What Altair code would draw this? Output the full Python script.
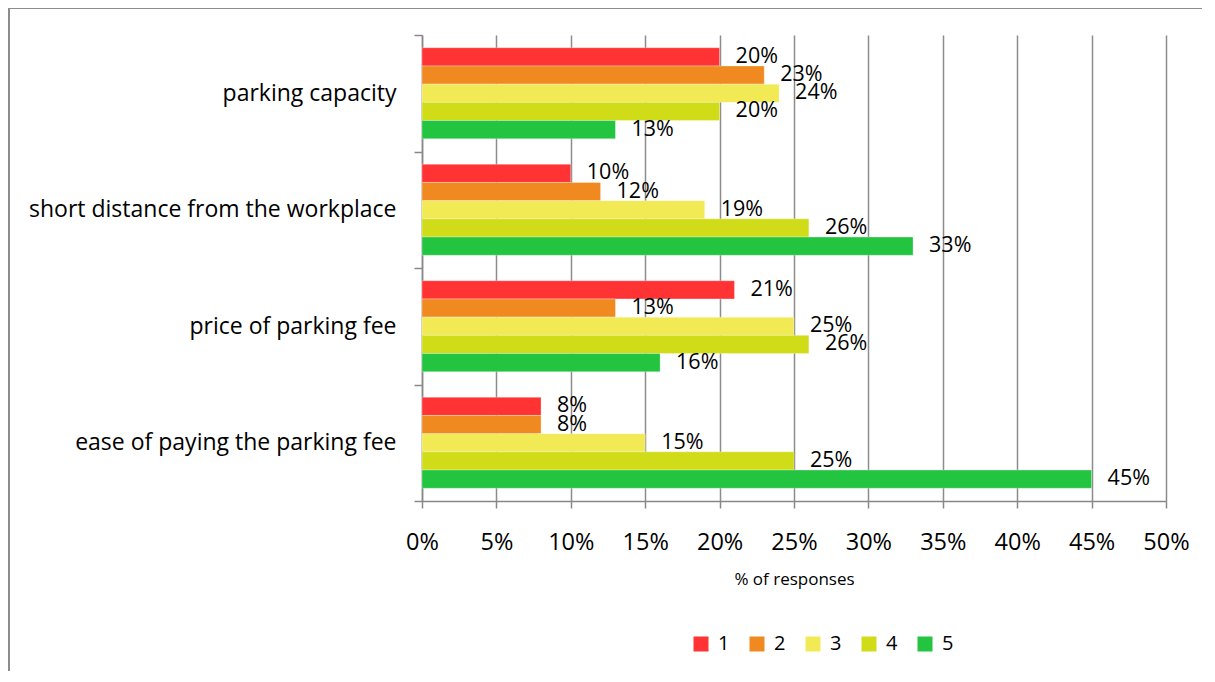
import altair as alt
import pandas as pd

categories = ["parking capacity", "short distance from the workplace",
              "price of parking fee", "ease of paying the parking fee"]
ratings = ["1", "2", "3", "4", "5"]
v_capacity = [20, 23, 24, 20, 13]
v_distance = [10, 12, 19, 26, 33]
v_price = [21, 13, 25, 26, 16]
v_ease = [8, 8, 15, 25, 45]
colors = ["#FF3333", "#F08A20", "#F2EA55", "#D0DC18", "#22C440"]

series = [v_capacity, v_distance, v_price, v_ease]
rows = []
for cat, vals in zip(categories, series):
    for r, v in zip(ratings, vals):
        rows.append({"category": cat, "rating": r, "value": v / 100.0,
                     "label": f"{v}%"})
df = pd.DataFrame(rows)

FONT = "Open Sans"

y_enc = alt.Y("category:N", sort=categories,
              scale=alt.Scale(paddingInner=0, paddingOuter=0),
              axis=alt.Axis(title=None, tickBand="extent", labelFontSize=23,
                            labelColor="#000000", labelFont=FONT, labelPadding=18,
                            tickSize=8, tickColor="#888888", domainColor="#888888",
                            tickWidth=1.5, domainWidth=1.5, grid=False, labelLimit=500))
yoff = alt.YOffset("rating:N", sort=ratings,
                   scale=alt.Scale(paddingInner=0, paddingOuter=0.7))

bars = alt.Chart(df).mark_bar(stroke="#ffffff", strokeWidth=0.6, strokeOpacity=0.5).encode(
    x=alt.X("value:Q", scale=alt.Scale(domain=[0, 0.5], nice=False),
            axis=alt.Axis(format=".0%", values=[i / 100 for i in range(0, 51, 5)],
                          title="% of responses", titleFontSize=17, titleFontWeight="normal",
                          titleFont=FONT, titleColor="#000000", titlePadding=18,
                          labelFontSize=23.5, labelFont=FONT, labelColor="#000000",
                          labelPadding=22, labelFlush=False, labelOverlap=False,
                          tickSize=7, tickColor="#888888",
                          domainColor="#888888", tickWidth=1.5, domainWidth=1.5,
                          gridColor="#8C8C8C", gridWidth=1.5)),
    y=y_enc,
    yOffset=yoff,
    color=alt.Color("rating:N", sort=ratings,
                    scale=alt.Scale(domain=ratings, range=colors),
                    legend=alt.Legend(title=None, orient="none", legendX=269, legendY=599,
                                      direction="horizontal", symbolType="square",
                                      symbolSize=225, symbolStrokeWidth=0,
                                      labelFontSize=20, labelFont=FONT, labelOffset=7,
                                      labelColor="#000000", columnPadding=17,
                                      symbolOpacity=1)),
)

labels = alt.Chart(df).mark_text(align="left", baseline="middle", dx=16,
                                 fontSize=21.5, font=FONT, color="#000000").encode(
    x=alt.X("value:Q"),
    y=alt.Y("category:N", sort=categories),
    yOffset=yoff,
    text="label:N",
)

frame = pd.DataFrame({"a": [0]})
top_line = alt.Chart(frame).mark_rule(color="#8C8C8C", strokeWidth=2, clip=False).encode(
    x=alt.value(-413), x2=alt.value(900), y=alt.value(-27))
left_line = alt.Chart(frame).mark_rule(color="#8C8C8C", strokeWidth=2, clip=False).encode(
    x=alt.value(-413), y=alt.value(-27), y2=alt.value(700))

chart = alt.layer(top_line, left_line, bars, labels).properties(
    width=744, height=466,
    autosize=alt.AutoSizeParams(type="none"),
    padding={"left": 414, "top": 27, "right": 36, "bottom": 170},
).configure_view(stroke=None)

chart.save("out.html", embed_options={"renderer": "svg", "actions": False})
